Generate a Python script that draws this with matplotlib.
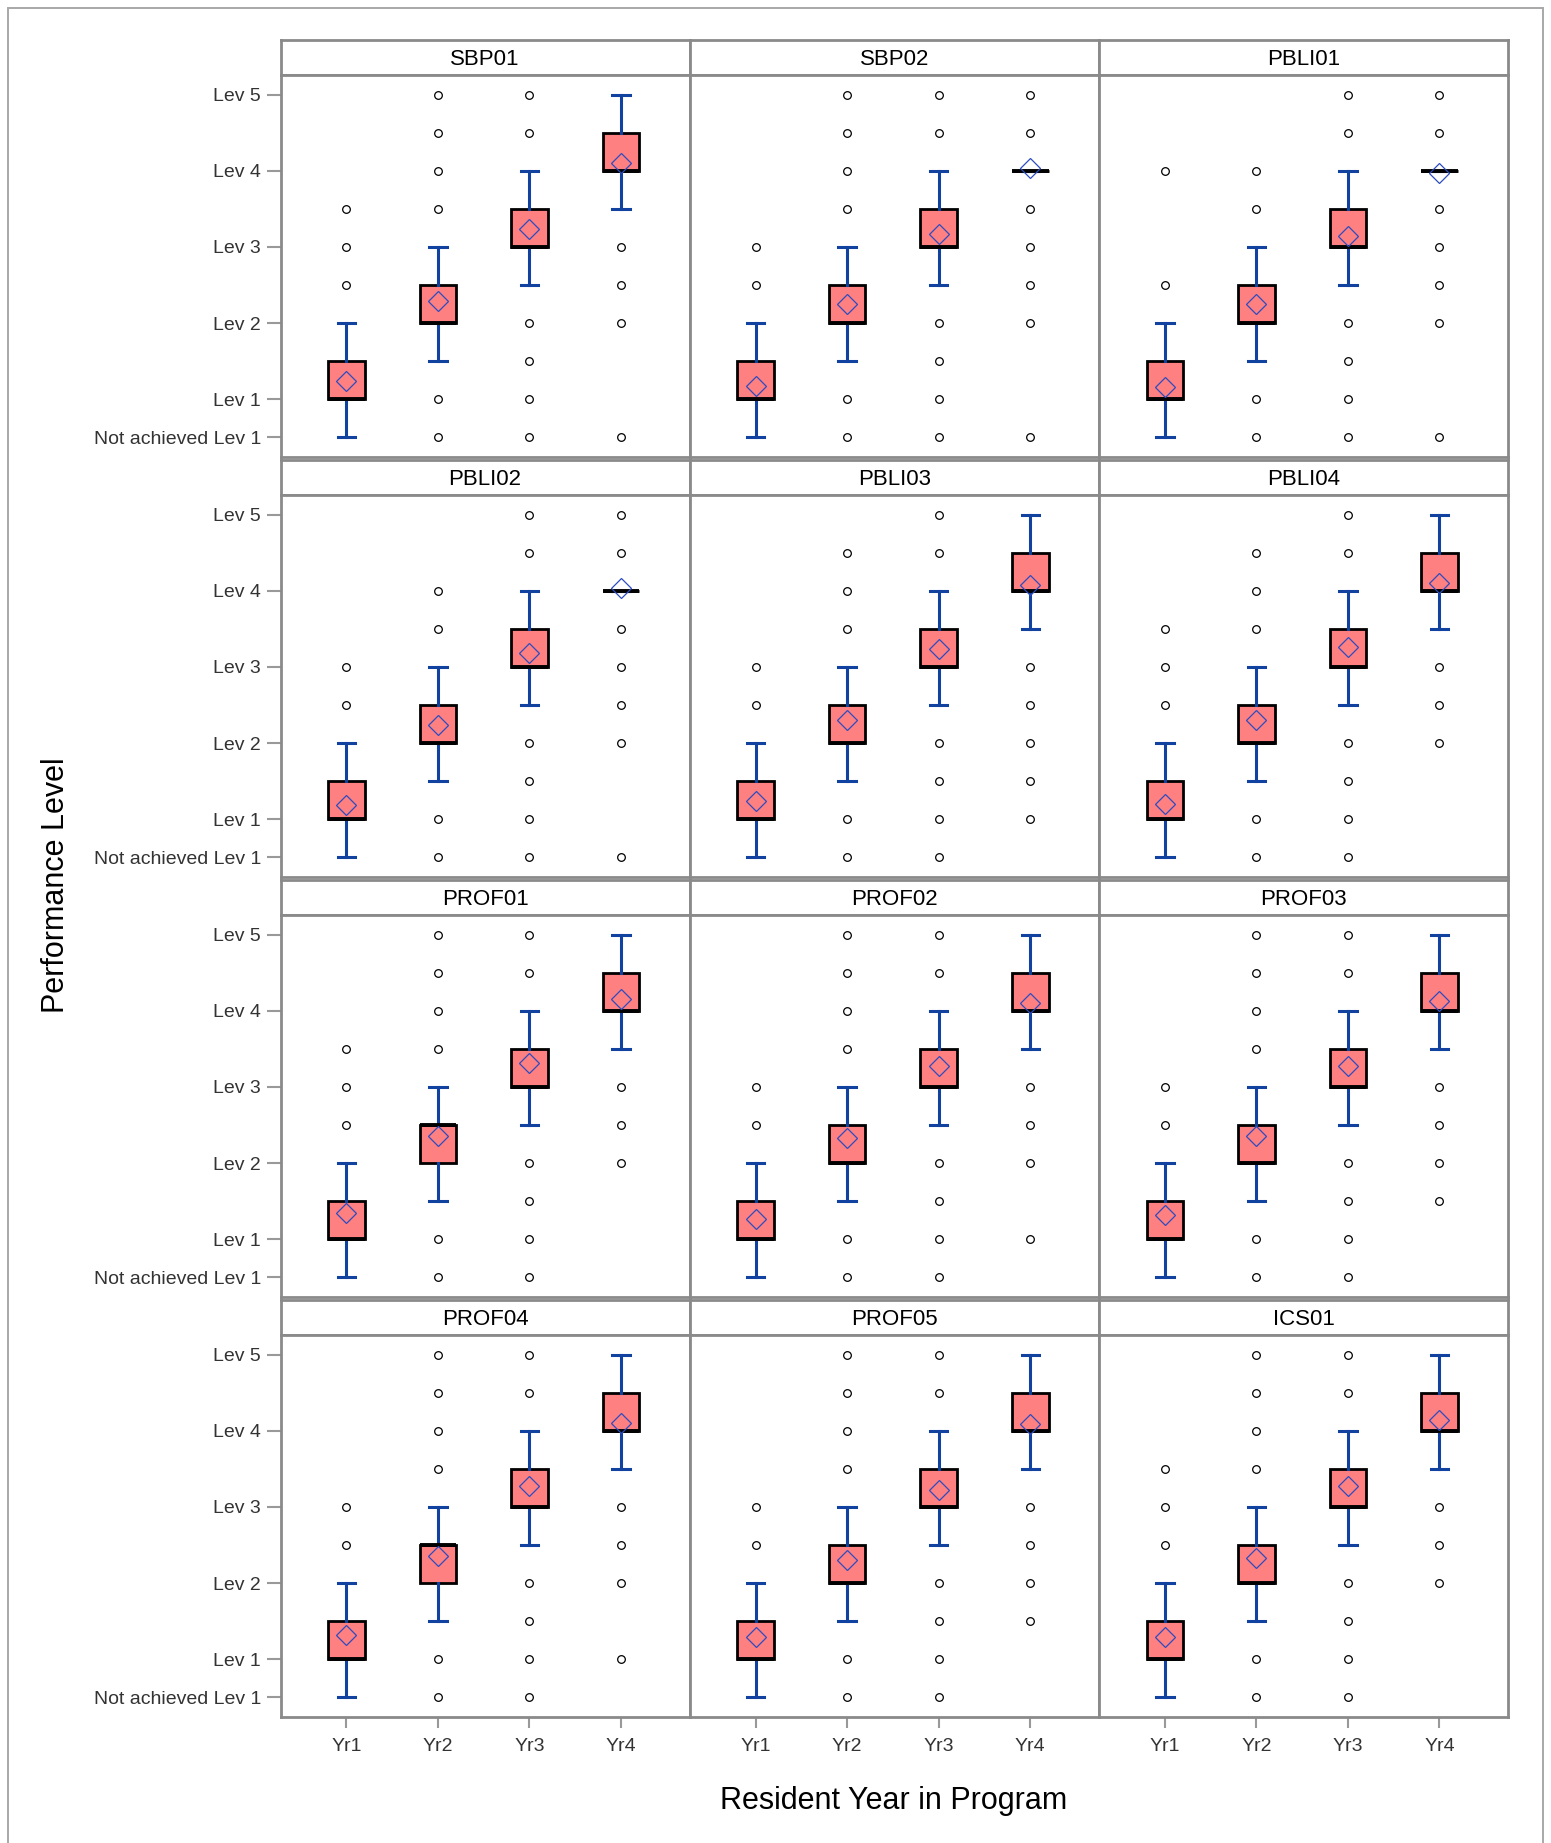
import numpy as np
import matplotlib.pyplot as plt
from matplotlib.patches import Rectangle

plt.rcParams['font.family'] = ['Liberation Sans', 'DejaVu Sans']

# facets, in reading order (3 columns x 4 rows)
panels = ["SBP01", "SBP02", "PBLI01",
          "PBLI02", "PBLI03", "PBLI04",
          "PROF01", "PROF02", "PROF03",
          "PROF04", "PROF05", "ICS01"]
years = ["Yr1", "Yr2", "Yr3", "Yr4"]

level_ticks = [0.5, 1, 2, 3, 4, 5]
level_labels = ["Not achieved Lev 1", "Lev 1", "Lev 2", "Lev 3", "Lev 4", "Lev 5"]

# box statistics per facet, one entry per year
q1_vals = [[1, 2, 3, 4]] * 12
q3_vals = [[1.5, 2.5, 3.5, 4.5], [1.5, 2.5, 3.5, 4], [1.5, 2.5, 3.5, 4],
           [1.5, 2.5, 3.5, 4], [1.5, 2.5, 3.5, 4.5], [1.5, 2.5, 3.5, 4.5],
           [1.5, 2.5, 3.5, 4.5], [1.5, 2.5, 3.5, 4.5], [1.5, 2.5, 3.5, 4.5],
           [1.5, 2.5, 3.5, 4.5], [1.5, 2.5, 3.5, 4.5], [1.5, 2.5, 3.5, 4.5]]
med_vals = [[1, 2, 3, 4], [1, 2, 3, 4], [1, 2, 3, 4],
            [1, 2, 3, 4], [1, 2, 3, 4], [1, 2, 3, 4],
            [1, 2.5, 3, 4], [1, 2, 3, 4], [1, 2, 3, 4],
            [1, 2.5, 3, 4], [1, 2, 3, 4], [1, 2, 3, 4]]
lo_vals = [[0.5, 1.5, 2.5, 3.5], [0.5, 1.5, 2.5, 4], [0.5, 1.5, 2.5, 4],
           [0.5, 1.5, 2.5, 4], [0.5, 1.5, 2.5, 3.5], [0.5, 1.5, 2.5, 3.5],
           [0.5, 1.5, 2.5, 3.5], [0.5, 1.5, 2.5, 3.5], [0.5, 1.5, 2.5, 3.5],
           [0.5, 1.5, 2.5, 3.5], [0.5, 1.5, 2.5, 3.5], [0.5, 1.5, 2.5, 3.5]]
hi_vals = [[2, 3, 4, 5], [2, 3, 4, 4], [2, 3, 4, 4],
           [2, 3, 4, 4], [2, 3, 4, 5], [2, 3, 4, 5],
           [2, 3, 4, 5], [2, 3, 4, 5], [2, 3, 4, 5],
           [2, 3, 4, 5], [2, 3, 4, 5], [2, 3, 4, 5]]
mean_vals = [[1.24, 2.29, 3.24, 4.11], [1.17, 2.25, 3.17, 4.04], [1.16, 2.25, 3.15, 3.98],
             [1.19, 2.24, 3.18, 4.04], [1.24, 2.30, 3.24, 4.08], [1.20, 2.30, 3.26, 4.11],
             [1.34, 2.36, 3.31, 4.16], [1.26, 2.33, 3.27, 4.11], [1.32, 2.35, 3.27, 4.13],
             [1.32, 2.36, 3.28, 4.10], [1.29, 2.30, 3.22, 4.09], [1.29, 2.33, 3.28, 4.15]]
outliers = [
    [[2.5, 3, 3.5], [0.5, 1, 3.5, 4, 4.5, 5], [0.5, 1, 1.5, 2, 4.5, 5], [0.5, 2, 2.5, 3]],
    [[2.5, 3], [0.5, 1, 3.5, 4, 4.5, 5], [0.5, 1, 1.5, 2, 4.5, 5], [0.5, 2, 2.5, 3, 3.5, 4.5, 5]],
    [[2.5, 4], [0.5, 1, 3.5, 4], [0.5, 1, 1.5, 2, 4.5, 5], [0.5, 2, 2.5, 3, 3.5, 4.5, 5]],
    [[2.5, 3], [0.5, 1, 3.5, 4], [0.5, 1, 1.5, 2, 4.5, 5], [0.5, 2, 2.5, 3, 3.5, 4.5, 5]],
    [[2.5, 3], [0.5, 1, 3.5, 4, 4.5], [0.5, 1, 1.5, 2, 4.5, 5], [1, 1.5, 2, 2.5, 3]],
    [[2.5, 3, 3.5], [0.5, 1, 3.5, 4, 4.5], [0.5, 1, 1.5, 2, 4.5, 5], [2, 2.5, 3]],
    [[2.5, 3, 3.5], [0.5, 1, 3.5, 4, 4.5, 5], [0.5, 1, 1.5, 2, 4.5, 5], [2, 2.5, 3]],
    [[2.5, 3], [0.5, 1, 3.5, 4, 4.5, 5], [0.5, 1, 1.5, 2, 4.5, 5], [1, 2, 2.5, 3]],
    [[2.5, 3], [0.5, 1, 3.5, 4, 4.5, 5], [0.5, 1, 1.5, 2, 4.5, 5], [1.5, 2, 2.5, 3]],
    [[2.5, 3], [0.5, 1, 3.5, 4, 4.5, 5], [0.5, 1, 1.5, 2, 4.5, 5], [1, 2, 2.5, 3]],
    [[2.5, 3], [0.5, 1, 3.5, 4, 4.5, 5], [0.5, 1, 1.5, 2, 4.5, 5], [1.5, 2, 2.5, 3]],
    [[2.5, 3, 3.5], [0.5, 1, 3.5, 4, 4.5, 5], [0.5, 1, 1.5, 2, 4.5, 5], [2, 2.5, 3]],
]

W, H = 1551, 1843
fig = plt.figure(figsize=(W / 100, H / 100), dpi=100)


def px_axes(left, top, width, height):
    return fig.add_axes([left / W, 1 - (top + height) / H, width / W, height / H])


frame_col = '#8a8a8a'
blue = '#1242a0'
pos = np.arange(1, 5)

col_w = 409.2
for i, name in enumerate(panels):
    r, c = divmod(i, 3)
    left = 280.5 + col_w * c
    top = 40 + 420 * r

    # header strip
    hax = px_axes(left, top, col_w, 35)
    hax.set_xticks([])
    hax.set_yticks([])
    for s in hax.spines.values():
        s.set_color(frame_col)
        s.set_linewidth(2.0)
    hax.text(0.5, 0.45, name, ha='center', va='center', fontsize=16,
             transform=hax.transAxes)

    ax = px_axes(left, top + 35, col_w, 382)
    stats = []
    for k in range(4):
        stats.append(dict(med=med_vals[i][k], q1=q1_vals[i][k], q3=q3_vals[i][k],
                          whislo=lo_vals[i][k], whishi=hi_vals[i][k],
                          mean=mean_vals[i][k], fliers=outliers[i][k]))
    ax.bxp(stats, positions=pos, widths=0.4, capwidths=0.19, patch_artist=True,
           showmeans=True, manage_ticks=False,
           boxprops=dict(facecolor='#ff8080', edgecolor='black', linewidth=2.0),
           whiskerprops=dict(color=blue, linewidth=2.2),
           capprops=dict(color=blue, linewidth=2.2),
           medianprops=dict(color='black', linewidth=2.8, zorder=4),
           meanprops=dict(marker='D', markerfacecolor='none', markeredgecolor='#2d4cc0',
                          markersize=10.5, markeredgewidth=0.9, zorder=5),
           flierprops=dict(marker='o', markerfacecolor='none', markeredgecolor='black',
                           markersize=5.5, markeredgewidth=0.9))

    ax.set_xlim(0.28, 4.75)
    ax.set_ylim(0.237, 5.263)
    for s in ax.spines.values():
        s.set_color(frame_col)
        s.set_linewidth(2.0)

    ax.set_yticks(level_ticks)
    ax.set_xticks(pos)
    if c == 0:
        ax.set_yticklabels(level_labels)
        ax.tick_params(axis='y', length=10, width=1.5, color='#999999',
                       labelcolor='#333333', labelsize=14, pad=4)
    else:
        ax.tick_params(axis='y', left=False, labelleft=False)
    if r == 3:
        ax.set_xticklabels(years)
        ax.tick_params(axis='x', length=8, width=1.5, color='#999999',
                       labelcolor='#333333', labelsize=14, pad=7)
    else:
        ax.tick_params(axis='x', bottom=False, labelbottom=False)

fig.text(894 / W, 1 - 1801 / H, "Resident Year in Program", ha='center', va='center',
         fontsize=22)
fig.text(56 / W, 1 - 885 / H, "Performance Level", ha='center', va='center',
         rotation=90, fontsize=22)

# thin frame round the whole graph (its bottom runs past the image edge)
fig.patches.append(Rectangle((8 / W, -20 / H), 1535 / W, 1 + 12 / H, transform=fig.transFigure,
                             fill=False, edgecolor='#a8a8a8', linewidth=1.4))

fig.savefig("out.png", dpi=100)
